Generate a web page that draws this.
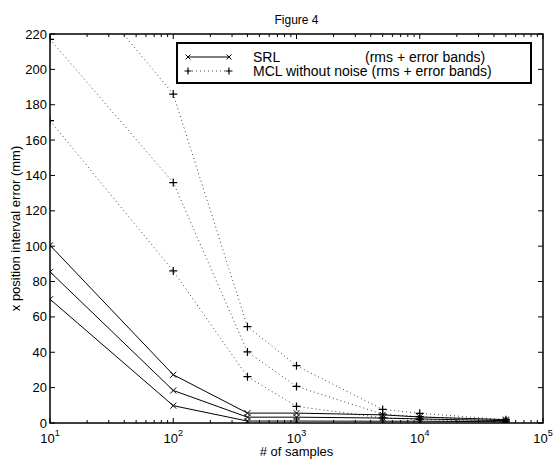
<!DOCTYPE html>
<html>
<head>
<meta charset="utf-8">
<script src="https://cdn.jsdelivr.net/npm/d3@7"></script>
<style>
  body { margin: 0; background: #fff; }
  text { font-family: "Liberation Sans", Arial, Helvetica, sans-serif; fill: #000; }
</style>
</head>
<body>
<div id="chart"></div>
<script>
const width = 554;
const height = 459;
const margin = { top: 34, right: 11, bottom: 36, left: 50 };

// samples (x values)
const samples = [10, 100, 400, 1000, 5000, 10000, 50000];

// SRL: upper band, rms, lower band
const srlUpper = [100.5, 27.3, 5.6, 5.6, 4.6, 3.4, 1.9];
const srlRms = [85.5, 18.4, 3.3, 3.3, 2.8, 2.3, 1.3];
const srlLower = [70, 9.8, 1.1, 1.1, 1.0, 1.0, 0.7];

// MCL without noise: upper band, rms, lower band
const mclUpper = [270, 186, 54.5, 32.4, 7.7, 5.5, 1.9];
const mclRms = [217, 136, 40.2, 20.7, 5.0, 3.6, 1.2];
const mclLower = [171, 86, 26.2, 9.4, 2.9, 2.0, 0.6];

const yTicks = d3.range(0, 221, 20);
const xMajor = [10, 100, 1000, 10000, 100000];
const xExponents = ["1", "2", "3", "4", "5"];

const svg = d3
  .select("#chart")
  .append("svg")
  .attr("width", width)
  .attr("height", height);

const x = d3
  .scaleLog()
  .domain([10, 100000])
  .range([margin.left, width - margin.right]);

const y = d3
  .scaleLinear()
  .domain([0, 220])
  .range([height - margin.bottom, margin.top]);

svg
  .append("defs")
  .append("clipPath")
  .attr("id", "plot-clip")
  .append("rect")
  .attr("x", margin.left)
  .attr("y", margin.top)
  .attr("width", width - margin.left - margin.right)
  .attr("height", height - margin.top - margin.bottom);

// ticks (MATLAB style, inside, on all four sides)
const minorTicks = [];
for (let e = 1; e < 5; e++) {
  for (let k = 2; k < 10; k++) minorTicks.push(k * Math.pow(10, e));
}

const ticks = svg.append("g").attr("stroke", "#000").attr("stroke-width", 1);
const x0 = margin.left;
const x1 = width - margin.right;
const y0 = height - margin.bottom;
const y1 = margin.top;

ticks
  .selectAll(".xmaj")
  .data(xMajor)
  .join("path")
  .attr("d", (d) => `M${x(d)},${y0}v-5M${x(d)},${y1}v5`);

ticks
  .selectAll(".xmin")
  .data(minorTicks)
  .join("path")
  .attr("d", (d) => `M${x(d)},${y0}v-3M${x(d)},${y1}v3`);

ticks
  .selectAll(".ytick")
  .data(yTicks)
  .join("path")
  .attr("d", (d) => `M${x0},${y(d)}h5M${x1},${y(d)}h-5`);

// tick labels
svg
  .append("g")
  .selectAll("text")
  .data(yTicks)
  .join("text")
  .attr("x", x0 - 3)
  .attr("y", (d) => y(d) + 4.5)
  .attr("text-anchor", "end")
  .style("font-size", "13px")
  .text((d) => d);

const xLabels = svg
  .append("g")
  .selectAll("text")
  .data(xMajor)
  .join("text")
  .attr("x", (d) => x(d))
  .attr("y", 443)
  .attr("text-anchor", "middle")
  .style("font-size", "13px");

xLabels.append("tspan").text("10");
xLabels
  .append("tspan")
  .attr("dy", -7)
  .style("font-size", "9px")
  .text((d, i) => xExponents[i]);

// series
const line = d3
  .line()
  .x((d) => x(d[0]))
  .y((d) => y(d[1]));

const plot = svg.append("g").attr("clip-path", "url(#plot-clip)");

const srlSeries = [srlUpper, srlRms, srlLower];
const mclSeries = [mclUpper, mclRms, mclLower];

function drawCross(g, cx, cy, r) {
  g.append("path")
    .attr("d", `M${cx - r},${cy - r}L${cx + r},${cy + r}M${cx - r},${cy + r}L${cx + r},${cy - r}`)
    .attr("stroke", "#000")
    .attr("stroke-width", 1);
}

function drawPlus(g, cx, cy, r) {
  g.append("path")
    .attr("d", `M${cx - r},${cy}H${cx + r}M${cx},${cy - r}V${cy + r}`)
    .attr("stroke", "#000")
    .attr("stroke-width", 1.2);
}

mclSeries.forEach((vals) => {
  const pts = samples.map((s, i) => [s, vals[i]]);
  plot
    .append("path")
    .attr("d", line(pts))
    .attr("fill", "none")
    .attr("stroke", "#444")
    .attr("stroke-width", 1)
    .attr("stroke-dasharray", "1,3");
  pts.forEach((p) => drawPlus(plot, x(p[0]), y(p[1]), 4));
});

srlSeries.forEach((vals) => {
  const pts = samples.map((s, i) => [s, vals[i]]);
  plot
    .append("path")
    .attr("d", line(pts))
    .attr("fill", "none")
    .attr("stroke", "#000")
    .attr("stroke-width", 1);
  pts.forEach((p) => drawCross(plot, x(p[0]), y(p[1]), 3));
});

// axes box
svg
  .append("rect")
  .attr("x", x0)
  .attr("y", y1)
  .attr("width", x1 - x0)
  .attr("height", y0 - y1)
  .attr("fill", "none")
  .attr("stroke", "#000")
  .attr("stroke-width", 1.5);

// legend
const legend = svg.append("g");
legend
  .append("rect")
  .attr("x", 177)
  .attr("y", 43)
  .attr("width", 354)
  .attr("height", 40)
  .attr("fill", "#fff")
  .attr("stroke", "#000")
  .attr("stroke-width", 2);

legend
  .append("line")
  .attr("x1", 188)
  .attr("x2", 229)
  .attr("y1", 57)
  .attr("y2", 57)
  .attr("stroke", "#000");
drawCross(legend, 188, 57, 2.5);
drawCross(legend, 229, 57, 2.5);

legend
  .append("line")
  .attr("x1", 188)
  .attr("x2", 229)
  .attr("y1", 71)
  .attr("y2", 71)
  .attr("stroke", "#444")
  .attr("stroke-dasharray", "1,3");
drawPlus(legend, 188, 71, 3.5);
drawPlus(legend, 229, 71, 3.5);

legend
  .append("text")
  .attr("x", 253)
  .attr("y", 62)
  .style("font-size", "14px")
  .text("SRL");
legend
  .append("text")
  .attr("x", 365)
  .attr("y", 62)
  .style("font-size", "14px")
  .text("(rms + error bands)");
legend
  .append("text")
  .attr("x", 253)
  .attr("y", 76)
  .style("font-size", "14px")
  .text("MCL without noise (rms + error bands)");

// titles
svg
  .append("text")
  .attr("x", (x0 + x1) / 2)
  .attr("y", 24)
  .attr("text-anchor", "middle")
  .style("font-size", "12px")
  .text("Figure 4");

svg
  .append("text")
  .attr("x", (x0 + x1) / 2)
  .attr("y", 456)
  .attr("text-anchor", "middle")
  .style("font-size", "13px")
  .text("# of samples");

svg
  .append("text")
  .attr("transform", `translate(20,${(y0 + y1) / 2}) rotate(-90)`)
  .attr("text-anchor", "middle")
  .style("font-size", "13px")
  .text("x position interval error (mm)");
</script>
</body>
</html>
